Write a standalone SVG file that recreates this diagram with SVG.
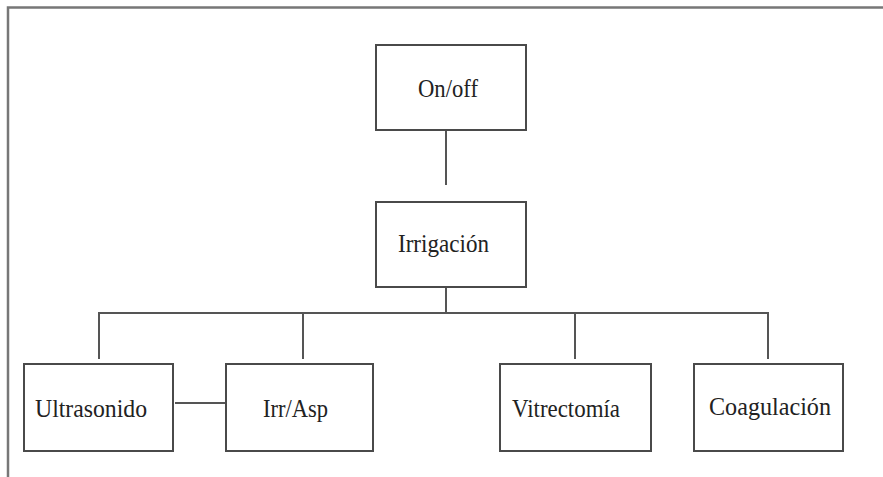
<svg xmlns="http://www.w3.org/2000/svg" width="883" height="477" viewBox="0 0 883 477">
<style>
.box{fill:#fff;stroke:#4a4a4a;stroke-width:2}
.ln{fill:none;stroke:#555;stroke-width:2}
.frame{fill:none;stroke:#777;stroke-width:2.5}
text{font-family:"Liberation Serif","Times New Roman",serif;font-size:25px;fill:#222}
</style>
<rect width="883" height="477" fill="#fff"/>
<path class="frame" d="M8,477 V7.5 H883"/>
<g id="connectors">
<path class="ln" d="M446,130 V185"/>
<path class="ln" d="M446,287 V313"/>
<path class="ln" d="M99,359 V313 H768 V359"/>
<path class="ln" d="M303,313 V359"/>
<path class="ln" d="M575,313 V359"/>
<path class="ln" d="M175,403 H228"/>
</g>
<g id="onoff"><rect class="box" x="376" y="45" width="150" height="85"/><text x="418" y="97" textLength="60" lengthAdjust="spacingAndGlyphs">On/off</text></g>
<g id="irrigacion"><rect class="box" x="376" y="202" width="150" height="85"/><text x="398" y="252" textLength="91" lengthAdjust="spacingAndGlyphs">Irrigación</text></g>
<g id="ultrasonido"><rect class="box" x="24" y="364" width="149" height="87"/><text x="35" y="417" textLength="112" lengthAdjust="spacingAndGlyphs">Ultrasonido</text></g>
<g id="irrasp"><rect class="box" x="226" y="364" width="147" height="87"/><text x="263" y="417" textLength="65" lengthAdjust="spacingAndGlyphs">Irr/Asp</text></g>
<g id="vitrectomia"><rect class="box" x="500" y="364" width="151" height="87"/><text x="512" y="417" textLength="108" lengthAdjust="spacingAndGlyphs">Vitrectomía</text></g>
<g id="coagulacion"><rect class="box" x="694" y="364" width="149" height="87"/><text x="709" y="415" textLength="122" lengthAdjust="spacingAndGlyphs">Coagulación</text></g>
</svg>
